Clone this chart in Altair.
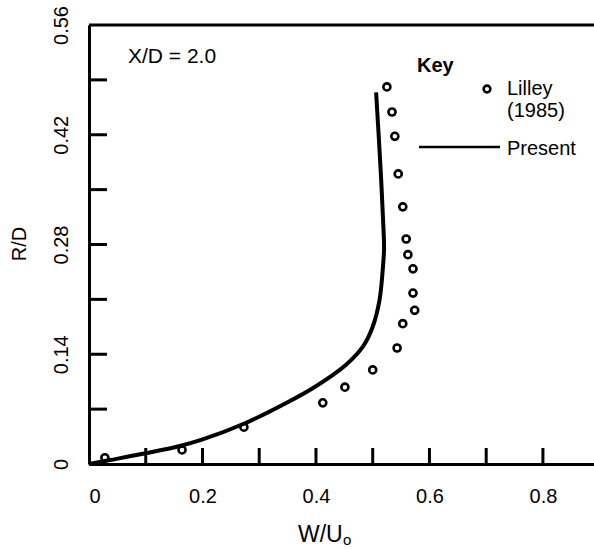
import altair as alt
import pandas as pd

# Lilley (1985) measurements
lilley_w = [0.028, 0.164, 0.273, 0.412, 0.451, 0.500, 0.543, 0.553, 0.574, 0.571,
            0.571, 0.562, 0.559, 0.553, 0.545, 0.539, 0.534, 0.525]
lilley_r = [0.008, 0.018, 0.047, 0.078, 0.098, 0.120, 0.148, 0.179, 0.196, 0.218,
            0.249, 0.267, 0.287, 0.328, 0.370, 0.418, 0.449, 0.481]

# Present prediction
present_w = [0.0, 0.037, 0.102, 0.160, 0.199, 0.275, 0.340, 0.395, 0.452, 0.483,
             0.500, 0.512, 0.518, 0.520, 0.519, 0.514, 0.506]
present_r = [0.0, 0.005, 0.014, 0.023, 0.031, 0.052, 0.075, 0.097, 0.126, 0.150,
             0.175, 0.209, 0.251, 0.275, 0.300, 0.375, 0.474]

x_labels = [0, 0.2, 0.4, 0.6, 0.8]
y_labels = [0, 0.14, 0.28, 0.42, 0.56]
x_minor = [0.1, 0.2, 0.3, 0.4, 0.5, 0.6, 0.7, 0.8]
y_minor = [0.07, 0.14, 0.21, 0.28, 0.35, 0.42, 0.49]

FONT = "Liberation Sans"
W, H = 505, 439

pts = pd.DataFrame({"w": lilley_w, "r": lilley_r})
line = pd.DataFrame({"w": present_w, "r": present_r, "i": list(range(len(present_w)))})

xs = alt.Scale(domain=[0, 0.89], nice=False, zero=False)
ys = alt.Scale(domain=[0, 0.56], nice=False, zero=False)

base_x = alt.X("w:Q", scale=xs, axis=alt.Axis(
    values=x_labels, ticks=False, grid=False, title=None,
    domainColor="black", domainWidth=3, labelColor="black",
    labelFont=FONT, labelFontSize=20, labelPadding=22,
    labelExpr="datum.value == 0 ? '0' : format(datum.value, '.1f')"))
base_y = alt.Y("r:Q", scale=ys, axis=alt.Axis(
    values=y_labels, ticks=False, grid=False, title=None,
    domainColor="black", domainWidth=3, labelColor="black",
    labelFont=FONT, labelFontSize=20, labelPadding=22,
    labelAngle=270, labelAlign="center", labelBaseline="alphabetic",
    labelExpr="datum.value == 0 ? '0' : format(datum.value, '.2f')"))

points = alt.Chart(pts).mark_point(
    shape="circle", filled=False, size=50, strokeWidth=2.6, color="black", opacity=1
).encode(x=base_x, y=base_y)

curve = alt.Chart(line).mark_line(
    color="black", strokeWidth=4, interpolate="catmull-rom"
).encode(x=alt.X("w:Q", scale=xs), y=alt.Y("r:Q", scale=ys), order="i:Q")

yt = alt.Chart(pd.DataFrame({"r": y_minor})).mark_rule(color="black", strokeWidth=3).encode(
    y=alt.Y("r:Q", scale=ys), x=alt.value(0), x2=alt.value(18))
xt = alt.Chart(pd.DataFrame({"w": x_minor})).mark_rule(color="black", strokeWidth=3).encode(
    x=alt.X("w:Q", scale=xs), y=alt.value(H - 16), y2=alt.value(H))
top = alt.Chart(pd.DataFrame({"a": [0]})).mark_rule(color="black", strokeWidth=3).encode(
    x=alt.value(0), x2=alt.value(W), y=alt.value(0))


def txt(s, x, y, size=20, weight="normal", angle=0, align="left", baseline="alphabetic"):
    return alt.Chart(pd.DataFrame({"t": [s]})).mark_text(
        font=FONT, fontSize=size, fontWeight=weight, angle=angle, align=align,
        baseline=baseline, color="black").encode(
        x=alt.value(x), y=alt.value(y), text="t:N")


leg_pt = alt.Chart(pd.DataFrame({"a": [0]})).mark_point(
    shape="circle", filled=False, size=45, strokeWidth=2.6, color="black", opacity=1
).encode(x=alt.value(398), y=alt.value(64))
leg_ln = alt.Chart(pd.DataFrame({"a": [0]})).mark_rule(color="black", strokeWidth=2.5).encode(
    x=alt.value(330), x2=alt.value(411), y=alt.value(122))

chart = alt.layer(
    top, yt, xt, curve, points, leg_pt, leg_ln,
    txt("X/D = 2.0", 39, 38, size=21),
    txt("Key", 328, 47, size=20, weight="bold"),
    txt("Lilley", 418, 70, size=20),
    txt("(1985)", 418, 92, size=20),
    txt("Present", 418, 130, size=20),
    txt("W/U", 209, 517, size=23),
    txt("o", 254, 520, size=15),
    txt("R/D", -69, 219, size=20, angle=270, align="center", baseline="middle"),
).properties(
    width=W, height=H,
    padding={"left": 89, "top": 25, "right": 0, "bottom": 85},
    autosize=alt.AutoSizeParams(type="none"),
).configure_view(stroke=None).configure(background="white")

chart.save("out.html", embed_options={"renderer": "svg", "actions": False})
